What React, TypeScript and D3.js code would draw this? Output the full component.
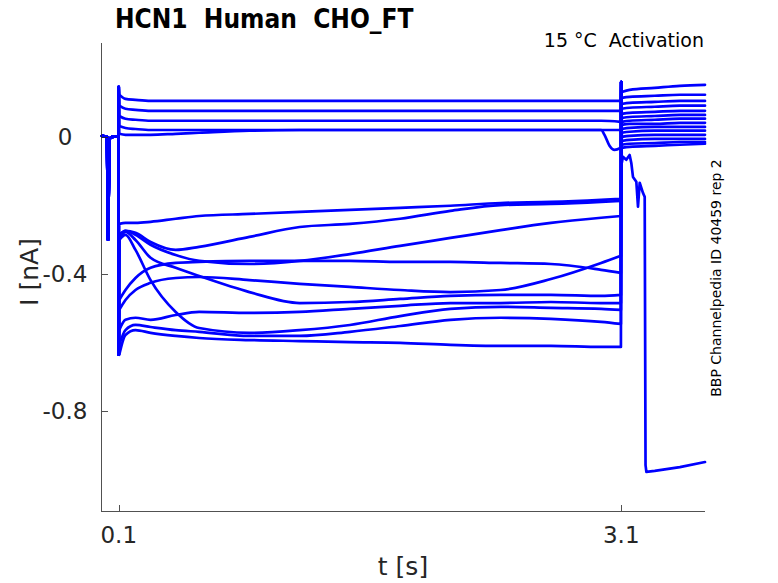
import React from 'react';
import * as d3 from 'd3';

const WIDTH = 778;
const HEIGHT = 583;

const titleText = 'HCN1  Human  CHO_FT';
const conditionText = '15 °C  Activation';
const sourceText = 'BBP Channelpedia ID 40459 rep 2';
const xLabel = 't [s]';
const yLabel = 'I [nA]';

const xDomain = [0, 3.6];
const yDomain = [-1.092, 0.274];
const xTicks = [0.1, 3.1];
const xTickLabels = ['0.1', '3.1'];
const yTicks = [0, -0.4, -0.8];
const yTickLabels = ['0', '-0.4', '-0.8'];

// holding period (shared by all sweeps)
const holdTimes = [0, 0.03, 0.036, 0.045, 0.06, 0.099];
const holdCurrent = [0.003, 0.0, -0.3, -0.005, 0.0, 0.002];

const onsetTime = 0.1;
const offsetTime = 3.1;
const offsetPeak = 0.16;

// test-pulse samples
const stepTimes = [0.103, 0.14, 0.2, 0.29, 0.44, 0.58, 0.88, 1.18, 1.48, 1.78, 2.08, 2.38, 2.68, 2.98, 3.098];

const onsetPeaks = [0.146, 0.146, 0.146, 0.146, -0.636, -0.636, -0.636, -0.636, -0.636, -0.636, -0.636, -0.636, -0.636, -0.636];

const stepCurrents = [
  [0.123, 0.111, 0.108, 0.105, 0.105, 0.105, 0.105, 0.105, 0.105, 0.105, 0.105, 0.105, 0.105, 0.105, 0.105],
  [0.091, 0.082, 0.079, 0.076, 0.076, 0.076, 0.076, 0.076, 0.076, 0.076, 0.076, 0.076, 0.076, 0.076, 0.076],
  [0.061, 0.053, 0.05, 0.047, 0.047, 0.047, 0.047, 0.047, 0.047, 0.047, 0.047, 0.047, 0.047, 0.047, 0.044],
  [0.032, 0.026, 0.023, 0.02, 0.02, 0.02, 0.02, 0.02, 0.02, 0.02, 0.02, 0.02, 0.02, 0.02, 0.02],
  [-0.254, -0.251, -0.251, -0.248, -0.239, -0.231, -0.225, -0.219, -0.213, -0.207, -0.201, -0.193, -0.19, -0.184, -0.181],
  [-0.286, -0.274, -0.28, -0.307, -0.33, -0.321, -0.292, -0.263, -0.254, -0.239, -0.216, -0.199, -0.196, -0.19, -0.187],
  [-0.286, -0.274, -0.286, -0.315, -0.345, -0.362, -0.371, -0.362, -0.342, -0.318, -0.295, -0.272, -0.251, -0.236, -0.231],
  [-0.476, -0.447, -0.412, -0.382, -0.368, -0.365, -0.362, -0.362, -0.362, -0.365, -0.365, -0.368, -0.371, -0.388, -0.397],
  [-0.505, -0.476, -0.447, -0.426, -0.412, -0.409, -0.418, -0.429, -0.438, -0.447, -0.453, -0.447, -0.415, -0.368, -0.347],
  [-0.301, -0.277, -0.301, -0.353, -0.382, -0.406, -0.453, -0.485, -0.482, -0.473, -0.464, -0.461, -0.461, -0.464, -0.461],
  [-0.564, -0.534, -0.528, -0.534, -0.52, -0.511, -0.514, -0.511, -0.502, -0.493, -0.485, -0.485, -0.482, -0.485, -0.485],
  [-0.301, -0.286, -0.33, -0.418, -0.511, -0.558, -0.572, -0.564, -0.549, -0.523, -0.502, -0.496, -0.499, -0.502, -0.505],
  [-0.607, -0.564, -0.549, -0.555, -0.564, -0.569, -0.581, -0.581, -0.569, -0.552, -0.534, -0.528, -0.531, -0.54, -0.546],
  [-0.636, -0.578, -0.564, -0.572, -0.581, -0.587, -0.593, -0.596, -0.599, -0.601, -0.607, -0.61, -0.61, -0.613, -0.613],
];

// tail samples
const tailTimes = [3.103, 3.15, 3.3, 3.45, 3.6];
const tailCurrents = [
  [0.131, 0.137, 0.143, 0.149, 0.152],
  [0.114, 0.117, 0.12, 0.123, 0.123],
  [0.096, 0.099, 0.102, 0.105, 0.105],
  [0.082, 0.085, 0.088, 0.091, 0.091],
  [0.067, 0.07, 0.073, 0.076, 0.076],
  [0.055, 0.058, 0.061, 0.064, 0.064],
  [0.044, 0.047, 0.05, 0.053, 0.053],
  [0.035, 0.038, 0.038, 0.041, 0.041],
  [0.023, 0.026, 0.029, 0.029, 0.029],
  [0.012, 0.015, 0.018, 0.018, 0.018],
  [0.0, 0.003, 0.006, 0.006, 0.006],
  [-0.012, -0.009, -0.006, -0.006, -0.006],
  [-0.023, -0.02, -0.018, -0.015, -0.015],
  [-0.032, -0.029, -0.026, -0.023, -0.02],
];

// sweep that loses the seal
const failOnsetPeak = 0.146;
const failStepTimes = [0.103, 0.14, 0.2, 0.29, 0.44, 0.58, 0.88, 1.18, 1.48, 1.78, 2.08, 2.38, 2.68, 2.98, 3.0, 3.03, 3.06, 3.098];
const failStepCurrents = [0.009, 0.006, 0.006, 0.006, 0.009, 0.012, 0.018, 0.02, 0.02, 0.02, 0.02, 0.02, 0.02, 0.02, 0.006, -0.026, -0.038, -0.032];
const failTailTimes = [3.103, 3.11, 3.13, 3.15, 3.16, 3.17, 3.19, 3.2, 3.21, 3.23, 3.24, 3.245, 3.25, 3.3, 3.45, 3.6];
const failTailCurrents = [-0.076, -0.058, -0.067, -0.053, -0.076, -0.117, -0.131, -0.204, -0.134, -0.164, -0.175, -0.958, -0.978, -0.975, -0.964, -0.949];

const LEFT = 102;
const RIGHT = 705;
const TOP = 43;
const BOTTOM = 511;

const BLUE = '#0000ff';
const AXIS = '#262626';
const FONT = "'DejaVu Sans', sans-serif";

type P = [number, number];

export default function App() {
  const x = d3.scaleLinear().domain(xDomain).range([LEFT, RIGHT]);
  const y = d3.scaleLinear().domain(yDomain).range([BOTTOM, TOP]);

  const lin = d3.line<P>().x((d) => x(d[0])).y((d) => y(d[1])).curve(d3.curveLinear);
  const smooth = d3.line<P>().x((d) => x(d[0])).y((d) => y(d[1])).curve(d3.curveMonotoneX);

  const zip = (ts: number[], vs: number[]): P[] => ts.map((t, i) => [t, vs[i]] as P);
  const hold = zip(holdTimes, holdCurrent);

  const buildPath = (
    peak: number,
    sT: number[],
    sV: number[],
    tT: number[],
    tV: number[],
    tailSmooth: boolean
  ) => {
    const step = zip(sT, sV);
    const tail = zip(tT, tV);
    const pre: P[] = [...hold, [onsetTime, peak], step[0]];
    const post: P[] = [step[step.length - 1], [offsetTime, offsetPeak], tail[0]];
    return [
      lin(pre),
      smooth(step),
      lin(post),
      tailSmooth ? smooth(tail) : lin(tail),
    ].join(' ');
  };

  const paths = stepCurrents.map((sv, i) =>
    buildPath(onsetPeaks[i], stepTimes, sv, tailTimes, tailCurrents[i], true)
  );
  const failPath = buildPath(failOnsetPeak, failStepTimes, failStepCurrents, failTailTimes, failTailCurrents, false);

  const axisX = LEFT - 0.5;

  return (
    <svg
      width={WIDTH}
      height={HEIGHT}
      style={{ display: 'block', background: '#fff', position: 'absolute', left: 0, top: 0 }}
    >
      <rect x={0} y={0} width={WIDTH} height={HEIGHT} fill="#fff" />
      <g fill="none" stroke={BLUE} strokeWidth={2.7} strokeLinejoin="round" strokeLinecap="round">
        {paths.map((d, i) => (
          <path key={i} d={d} />
        ))}
        <path d={failPath} />
      </g>

      {/* axes */}
      <g stroke={AXIS} strokeWidth={0.8} fill="none" shapeRendering="crispEdges">
        <line x1={axisX} y1={TOP} x2={axisX} y2={BOTTOM + 0.5} />
        <line x1={axisX} y1={BOTTOM + 0.5} x2={RIGHT} y2={BOTTOM + 0.5} />
        {yTicks.map((t, i) => (
          <line key={'yt' + i} x1={axisX} x2={axisX + 6} y1={Math.round(y(t)) + 0.5} y2={Math.round(y(t)) + 0.5} />
        ))}
        {xTicks.map((t, i) => (
          <line key={'xt' + i} x1={Math.round(x(t)) + 0.5} x2={Math.round(x(t)) + 0.5} y1={BOTTOM} y2={BOTTOM - 6} />
        ))}
      </g>

      <g fill={AXIS} fontFamily={FONT} fontSize={23}>
        {yTicks.map((t, i) => (
          <text key={'yl' + i} x={65} y={y(t) + 8} textAnchor="middle">
            {yTickLabels[i]}
          </text>
        ))}
        {xTicks.map((t, i) => (
          <text key={'xl' + i} x={x(t)} y={543} textAnchor="middle">
            {xTickLabels[i]}
          </text>
        ))}
      </g>

      <text x={403} y={575} textAnchor="middle" fontFamily={FONT} fontSize={25} fill={AXIS}>
        {xLabel}
      </text>
      <text
        transform="translate(38,272) rotate(-90)"
        textAnchor="middle"
        fontFamily={FONT}
        fontSize={25}
        fill={AXIS}
      >
        {yLabel}
      </text>

      <text
        x={115}
        y={28}
        fontFamily="'DejaVu Sans Condensed', 'DejaVu Sans', sans-serif"
        fontWeight="bold"
        fontSize={26}
        fill="#000"
        style={{ whiteSpace: 'pre' }}
      >
        {titleText}
      </text>
      <text x={704} y={47} textAnchor="end" fontFamily={FONT} fontSize={19} fill="#000" style={{ whiteSpace: 'pre' }}>
        {conditionText}
      </text>
      <text
        transform="translate(721,278) rotate(-90)"
        textAnchor="middle"
        fontFamily={FONT}
        fontSize={14}
        fill="#000"
      >
        {sourceText}
      </text>
    </svg>
  );
}
